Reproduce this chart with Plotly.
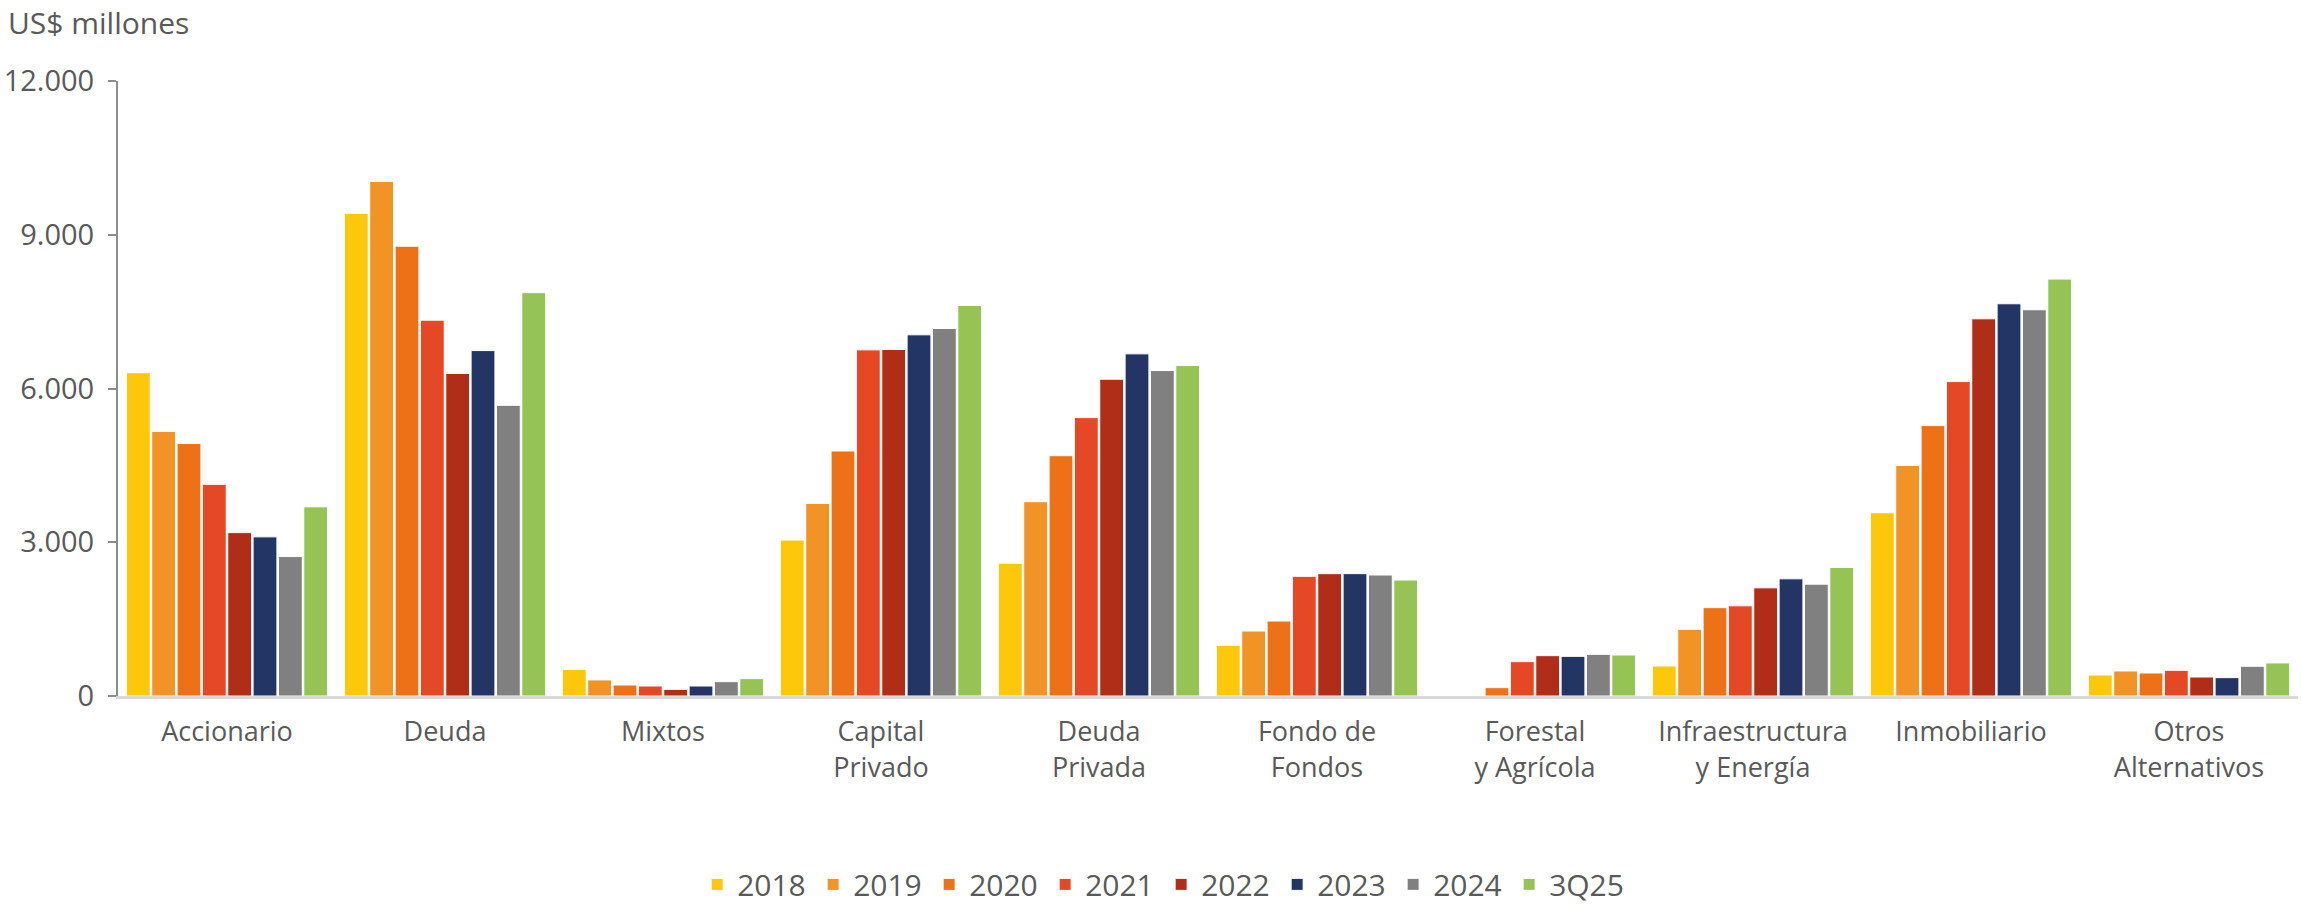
import plotly.graph_objects as go

categories = ["Accionario", "Deuda", "Mixtos", "Capital<br>Privado", "Deuda<br>Privada",
              "Fondo de<br>Fondos", "Forestal<br>y Agrícola", "Infraestructura<br>y Energía",
              "Inmobiliario", "Otros<br>Alternativos"]

series_names = ["2018", "2019", "2020", "2021", "2022", "2023", "2024", "3Q25"]

v2018 = [6307, 9419, 516, 3042, 2592, 989, None, 585, 3576, 410]
v2019 = [5163, 10040, 314, 3758, 3791, 1268, None, 1301, 4500, 488]
v2020 = [4926, 8777, 215, 4781, 4689, 1463, 163, 1724, 5276, 449]
v2021 = [4130, 7333, 195, 6754, 5432, 2335, 670, 1760, 6135, 501]
v2022 = [3188, 6293, 130, 6761, 6181, 2387, 787, 2110, 7360, 371]
v2023 = [3105, 6740, 195, 7047, 6676, 2387, 774, 2286, 7653, 358]
v2024 = [2721, 5672, 280, 7171, 6350, 2361, 813, 2182, 7536, 580]
v3q25 = [3691, 7870, 339, 7620, 6448, 2263, 800, 2508, 8135, 645]

values = [v2018, v2019, v2020, v2021, v2022, v2023, v2024, v3q25]
colors = ["#FDC70C", "#F29325", "#EC7117", "#E54825", "#B02D18", "#233565", "#808080", "#95C354"]

y_ticks = [0, 3000, 6000, 9000, 12000]

TXT = "#595959"
FONT = "Open Sans"

fig = go.Figure()
for name, vals, col in zip(series_names, values, colors):
    fig.add_trace(go.Bar(
        name=name, x=categories, y=vals,
        marker=dict(color=col, line=dict(color="white", width=1)),
    ))

fig.update_layout(
    width=2301, height=906,
    margin=dict(l=118, r=3, t=81, b=210, autoexpand=False),
    paper_bgcolor="white", plot_bgcolor="white",
    barmode="group", bargap=0.07, bargroupgap=0.06,
    separators=",.",
    font=dict(family=FONT, color=TXT, size=27),
    showlegend=True,
    legend=dict(orientation="h", x=0.4785, xanchor="center", y=-0.3063, yanchor="middle",
                font=dict(family=FONT, size=30, color=TXT), traceorder="normal",
                entrywidth=71, entrywidthmode="pixels",
                itemclick=False, itemdoubleclick=False),
    xaxis=dict(
        automargin=False,
        showline=True, linecolor="#D9D9D9", linewidth=3,
        showgrid=False, zeroline=False,
        tickfont=dict(family=FONT, size=27, color=TXT),
        ticks="outside", ticklen=10, tickcolor="rgba(0,0,0,0)",
    ),
    yaxis=dict(
        automargin=False,
        range=[0, 12000], tickvals=y_ticks, tickformat=",.0f",
        showline=True, linecolor="#8C8C8C", linewidth=2,
        ticks="outside", ticklen=8, tickcolor="#8C8C8C", tickwidth=2,
        ticklabelstandoff=8,
        showgrid=False, zeroline=False,
        tickfont=dict(family=FONT, size=29, color=TXT),
    ),
    annotations=[dict(
        text="US$ millones", xref="paper", yref="paper",
        x=(6 - 118) / 2180, y=(695.6 - 22) / 615, xanchor="left", yanchor="middle",
        showarrow=False, font=dict(family=FONT, size=30, color=TXT),
    )],
)

fig.write_html(
    "out.html",
    config={"displayModeBar": False},
    post_script="document.body.style.margin='0';document.body.style.overflow='hidden';",
)
